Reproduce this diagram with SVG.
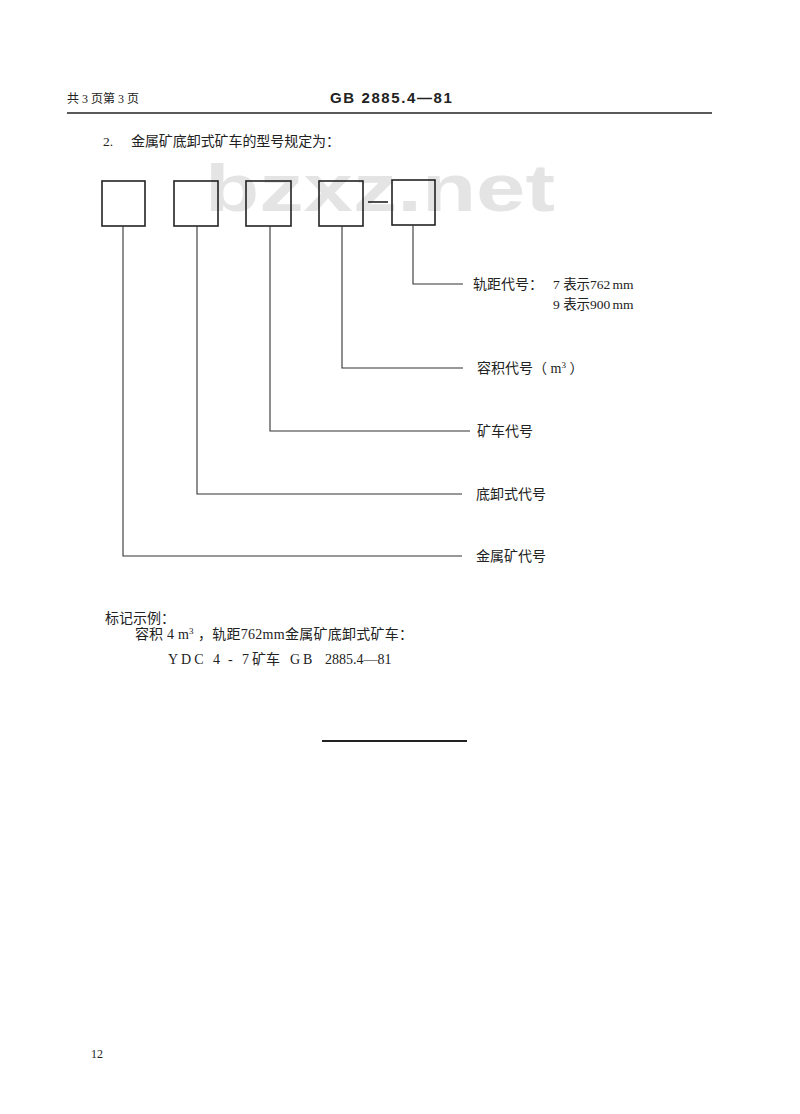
<svg xmlns="http://www.w3.org/2000/svg" width="800" height="1114" viewBox="0 0 800 1114">
<style>
.t{font-family:"Liberation Serif","Noto Sans CJK SC",serif;font-size:13.5px;fill:#222}
.c{font-size:14px}
.box{fill:none;stroke:#222;stroke-width:1.6}
.ln{fill:none;stroke:#333;stroke-width:1.1}
.wm{font-family:"Liberation Sans","DejaVu Sans",sans-serif;font-weight:bold;font-size:66px;fill:#e4e4e4}
</style>
<rect width="800" height="1114" fill="#fff"/>
<text class="wm" x="205" y="211" textLength="350" lengthAdjust="spacingAndGlyphs">bzxz.net</text>
<g id="header">
<text class="t" x="67" y="103" style="font-size:12px">共 3 页第 3 页</text>
<text x="330" y="103" style="font-family:'Liberation Sans',sans-serif;font-weight:bold;font-size:15px;fill:#222" letter-spacing="1.6">GB 2885.4—81</text>
<line x1="67" y1="113" x2="712" y2="113" stroke="#222" stroke-width="1.6"/>
</g>
<text class="t" x="103" y="146">2.</text>
<text class="t c" x="131" y="146" textLength="209">金属矿底卸式矿车的型号规定为：</text>
<g id="box1"><rect class="box" x="102" y="181" width="43" height="45"/></g>
<g id="box2"><rect class="box" x="174" y="181" width="44" height="45"/></g>
<g id="box3"><rect class="box" x="246" y="181" width="45" height="45"/></g>
<g id="box4"><rect class="box" x="319" y="181" width="44" height="45"/></g>
<g id="box5"><rect class="box" x="392" y="180" width="43" height="45"/></g>
<g id="connectors">
<line x1="368" y1="202" x2="388" y2="202" stroke="#222" stroke-width="1.6"/>
<polyline class="ln" points="413,225 413,284 463,284"/>
<polyline class="ln" points="342,226 342,368 463,368"/>
<polyline class="ln" points="270,226 270,431 470,431"/>
<polyline class="ln" points="197,226 197,494 462,494"/>
<polyline class="ln" points="123,226 123,556 462,556"/>
</g>
<g id="label5">
<text class="t c" x="473" y="289">轨距代号：</text>
<text class="t" x="553" y="289">7 表示762<tspan dx="2">mm</tspan></text>
<text class="t" x="553" y="309">9 表示900<tspan dx="2">mm</tspan></text>
</g>
<g id="label4"><text class="t c" x="477" y="373">容积代号（ m<tspan dy="-5" style="font-size:9px">3</tspan><tspan dy="5"> ）</tspan></text></g>
<g id="label3"><text class="t c" x="477" y="436">矿车代号</text></g>
<g id="label2"><text class="t c" x="476" y="499">底卸式代号</text></g>
<g id="label1"><text class="t c" x="476" y="561">金属矿代号</text></g>
<g id="example">
<text class="t c" x="105" y="623">标记示例：</text>
<text class="t c" y="639"><tspan x="135">容积</tspan><tspan x="167">4</tspan><tspan x="178">m</tspan><tspan dy="-5" style="font-size:9px">3</tspan><tspan x="198" dy="5" textLength="215">，轨距762mm金属矿底卸式矿车：</tspan></text>
<text class="t c" y="664"><tspan x="168" letter-spacing="3">YDC</tspan><tspan x="213">4</tspan><tspan x="228">-</tspan><tspan x="242">7</tspan><tspan x="252">矿车</tspan><tspan x="290" letter-spacing="3">GB</tspan><tspan x="325">2885.4—81</tspan></text>
<line x1="322" y1="741" x2="467" y2="741" stroke="#222" stroke-width="2"/>
</g>
<text class="t" x="91" y="1058" style="font-size:12px">12</text>
</svg>
